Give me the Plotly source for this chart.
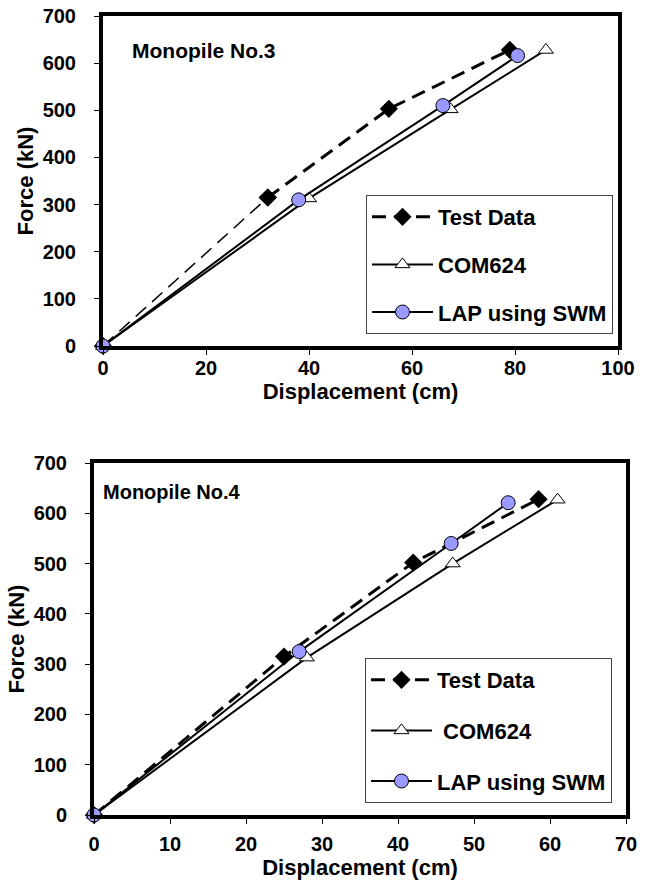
import plotly.graph_objects as go

W, H = 652, 890

# ---------------- data ----------------
series_names = ["Test Data", "COM624", "LAP using SWM"]

# Monopile No.3
p3_test_x = [0, 32, 55.5, 79]
p3_test_y = [0, 315, 503, 628]
p3_com_x = [0, 40, 67.5, 86]
p3_com_y = [0, 313, 502, 628]
p3_lap_x = [0, 38, 66, 80.5]
p3_lap_y = [0, 310, 510, 616]

# Monopile No.4
p4_test_x = [0, 25, 42, 58.5]
p4_test_y = [0, 315, 502, 628]
p4_com_x = [0, 28, 47.2, 61]
p4_com_y = [0, 313, 500, 627]
p4_lap_x = [0, 27, 47, 54.5]
p4_lap_y = [0, 325, 540, 621]

x3_ticks = [0, 20, 40, 60, 80, 100]
x4_ticks = [0, 10, 20, 30, 40, 50, 60, 70]
y_ticks = [0, 100, 200, 300, 400, 500, 600, 700]

FONT = "Liberation Sans, Arial, sans-serif"
LAVENDER = "#9999FF"
DASH = "14px,8px"


def px_x(p):
    return p / W


def px_y(p):
    return 1 - p / H


fig = go.Figure()

diamond = dict(symbol="diamond", size=14, color="black")


def add_series(tx, ty, cx, cy, lx, ly, xa, ya, leg, com_name, thin_first):
    if thin_first:
        # first segment of the test curve is drawn with a thin dashed line
        fig.add_trace(go.Scatter(
            x=tx[:2], y=ty[:2], mode="lines+markers", showlegend=False,
            line=dict(color="black", width=1.5, dash=DASH), marker=diamond,
            xaxis=xa, yaxis=ya, legend=leg, legendgroup=leg + "a",
            cliponaxis=False))
        fig.add_trace(go.Scatter(
            x=tx[1:], y=ty[1:], name=series_names[0], mode="lines+markers",
            line=dict(color="black", width=3, dash=DASH), marker=diamond,
            xaxis=xa, yaxis=ya, legend=leg, legendgroup=leg + "a",
            cliponaxis=False))
    else:
        fig.add_trace(go.Scatter(
            x=tx, y=ty, name=series_names[0], mode="lines+markers",
            line=dict(color="black", width=3, dash=DASH), marker=diamond,
            xaxis=xa, yaxis=ya, legend=leg, legendgroup=leg + "a",
            cliponaxis=False))
    fig.add_trace(go.Scatter(
        x=cx, y=cy, name=com_name, mode="lines+markers",
        line=dict(color="black", width=2),
        marker=dict(symbol="triangle-up", size=13, color="white",
                    line=dict(color="black", width=1)),
        xaxis=xa, yaxis=ya, legend=leg, legendgroup=leg + "b",
        cliponaxis=False))
    fig.add_trace(go.Scatter(
        x=lx, y=ly, name=series_names[2], mode="lines+markers",
        line=dict(color="black", width=2),
        marker=dict(symbol="circle", size=14, color=LAVENDER,
                    line=dict(color="black", width=1)),
        xaxis=xa, yaxis=ya, legend=leg, legendgroup=leg + "c",
        cliponaxis=False))


add_series(p3_test_x, p3_test_y, p3_com_x, p3_com_y, p3_lap_x, p3_lap_y,
           "x", "y", "legend", series_names[1], True)
add_series(p4_test_x, p4_test_y, p4_com_x, p4_com_y, p4_lap_x, p4_lap_y,
           "x2", "y2", "legend2", "&nbsp;" + series_names[1], False)

tickfont = dict(family=FONT, size=20, color="black", weight="bold")
titlefont = dict(family=FONT, size=22, color="black", weight="bold")

common_axis = dict(
    showline=True, linewidth=4, linecolor="black", mirror=True,
    ticks="outside", ticklen=5, tickwidth=1, tickcolor="black",
    showgrid=False, zeroline=False, tickfont=tickfont, automargin=False,
    ticklabeloverflow="allow",
)

legend_common = dict(
    bgcolor="white", bordercolor="#444", borderwidth=1,
    font=dict(family=FONT, size=22, color="black", weight="bold"),
    xanchor="left", yanchor="top", itemwidth=61,
)

fig.update_layout(
    width=W, height=H,
    margin=dict(l=0, r=0, t=0, b=0),
    paper_bgcolor="white", plot_bgcolor="white",
    showlegend=True,
    xaxis=dict(domain=[px_x(103), px_x(618)], range=[0, 100],
               tickvals=x3_ticks, ticklabelstandoff=-4,
               title=dict(text="Displacement (cm)", font=titlefont, standoff=0),
               anchor="y", **common_axis),
    yaxis=dict(domain=[px_y(346), px_y(16)], range=[0, 700],
               tickvals=y_ticks, ticklabelstandoff=14,
               title=dict(text="Force (kN)", font=titlefont, standoff=4),
               anchor="x", **common_axis),
    xaxis2=dict(domain=[px_x(94), px_x(626)], range=[0, 70],
                tickvals=x4_ticks, ticklabelstandoff=3,
                title=dict(text="Displacement (cm)", font=titlefont, standoff=0),
                anchor="y2", **common_axis),
    yaxis2=dict(domain=[px_y(815), px_y(463)], range=[0, 700],
                tickvals=y_ticks, ticklabelstandoff=14,
                title=dict(text="Force (kN)", font=titlefont, standoff=4),
                anchor="x2", **common_axis),
    legend=dict(x=px_x(366), y=px_y(195), tracegroupgap=16, **legend_common),
    legend2=dict(x=px_x(365), y=px_y(658), tracegroupgap=19, **legend_common),
    annotations=[
        dict(text="Monopile No.3", x=px_x(130), y=px_y(51), xref="paper",
             yref="paper", xanchor="left", yanchor="middle", showarrow=False,
             font=dict(family=FONT, size=21, color="black", weight="bold")),
        dict(text="Monopile No.4", x=px_x(101), y=px_y(492), xref="paper",
             yref="paper", xanchor="left", yanchor="middle", showarrow=False,
             font=dict(family=FONT, size=20, color="black", weight="bold")),
    ],
)

# remove the browser's default 8px page margin so the figure fills the window
fig.write_html("out.html", config={"displayModeBar": False},
               post_script="document.body.style.margin='0';")
